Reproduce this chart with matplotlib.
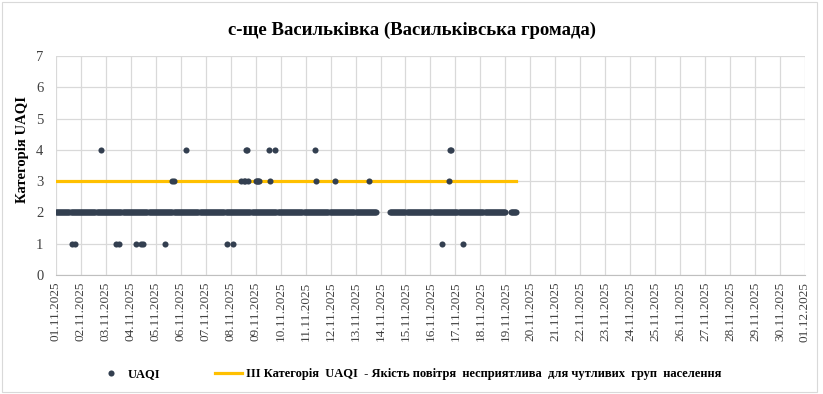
import matplotlib.pyplot as plt
import numpy as np
import pandas as pd
from matplotlib.patches import Rectangle

OUT = "out.png"

# UAQI category readings, hours counted from 01.11.2025 00:00
BASE_VALUE = 2
BASE_SEGMENTS = [(0, 308), (321, 432), (437, 442)]
CAT1_HOURS = [15, 18, 58, 61, 77, 82, 84, 105, 164, 170, 371, 391]
CAT3_HOURS = [112, 113, 178, 181, 182, 185, 192, 193, 194, 195, 206, 250, 268, 301, 378]
CAT4_HOURS = [43, 125, 183, 184, 205, 211, 249, 379, 380]
THRESHOLD = 3

DAY_LABELS = pd.date_range("2025-11-01", "2025-12-01", freq="D").strftime("%d.%m.%Y").tolist()

base_hours = np.concatenate([np.arange(a, b + 1) for a, b in BASE_SEGMENTS])
hours = np.concatenate([base_hours, CAT1_HOURS, CAT3_HOURS, CAT4_HOURS])
uaqi = np.concatenate([np.full(base_hours.shape, BASE_VALUE), np.full(len(CAT1_HOURS), 1),
                       np.full(len(CAT3_HOURS), 3), np.full(len(CAT4_HOURS), 4)])

plt.rcParams.update({"font.family": ["Liberation Serif", "DejaVu Serif"], "font.size": 10})
fig = plt.figure(figsize=(8.23, 3.94), dpi=100)
ax = fig.add_axes([0.068, 0.302, 0.910, 0.556])

ax.plot(base_hours, np.full(base_hours.shape, THRESHOLD), color="#ffc000", lw=2.3, zorder=2,
        label="III Категорія  UAQI  - Якість повітря  несприятлива  для чутливих  груп  населення")
ax.plot(hours, uaqi, "o", color="#333f50", ms=4.4, mec="none", zorder=3, label="UAQI")

ax.set_xlim(0, 24 * (len(DAY_LABELS) - 1))
ax.set_xticks(np.arange(len(DAY_LABELS)) * 24)
ax.set_xticklabels(DAY_LABELS, rotation=90, fontsize=9.5, color="#404040")
ax.set_ylim(0, 7)
ax.set_yticks(range(8))
ax.tick_params(axis="y", labelsize=10.5, colors="#404040", pad=9)
ax.tick_params(axis="x", pad=5)
ax.tick_params(length=0)
ax.grid(True, color="#d9d9d9", lw=0.9)
ax.set_axisbelow(True)
for s in ["top", "right", "left"]:
    ax.spines[s].set_visible(False)
ax.spines["bottom"].set_color("#bfbfbf")
ax.set_ylabel("Категорія UAQI", fontweight="bold", fontsize=10.5)
ax.yaxis.set_label_coords(-0.036, 0.573)

fig.text(0.5, 0.924, "с-ще Васильківка (Васильківська громада)", ha="center", va="center",
         fontsize=13.5, fontweight="bold")

h, l = ax.get_legend_handles_labels()
fig.legend(h[::-1], l[::-1], loc="center", bbox_to_anchor=(0.497, 0.05), ncol=2, frameon=False,
           prop={"weight": "bold", "size": 9}, columnspacing=4.3, handlelength=2.2, handletextpad=0.3)

fig.patches.append(Rectangle((0.003, 0.005), 0.99, 0.99, transform=fig.transFigure,
                             fill=False, ec="#d9d9d9", lw=0.8))
fig.savefig(OUT, dpi=100)
